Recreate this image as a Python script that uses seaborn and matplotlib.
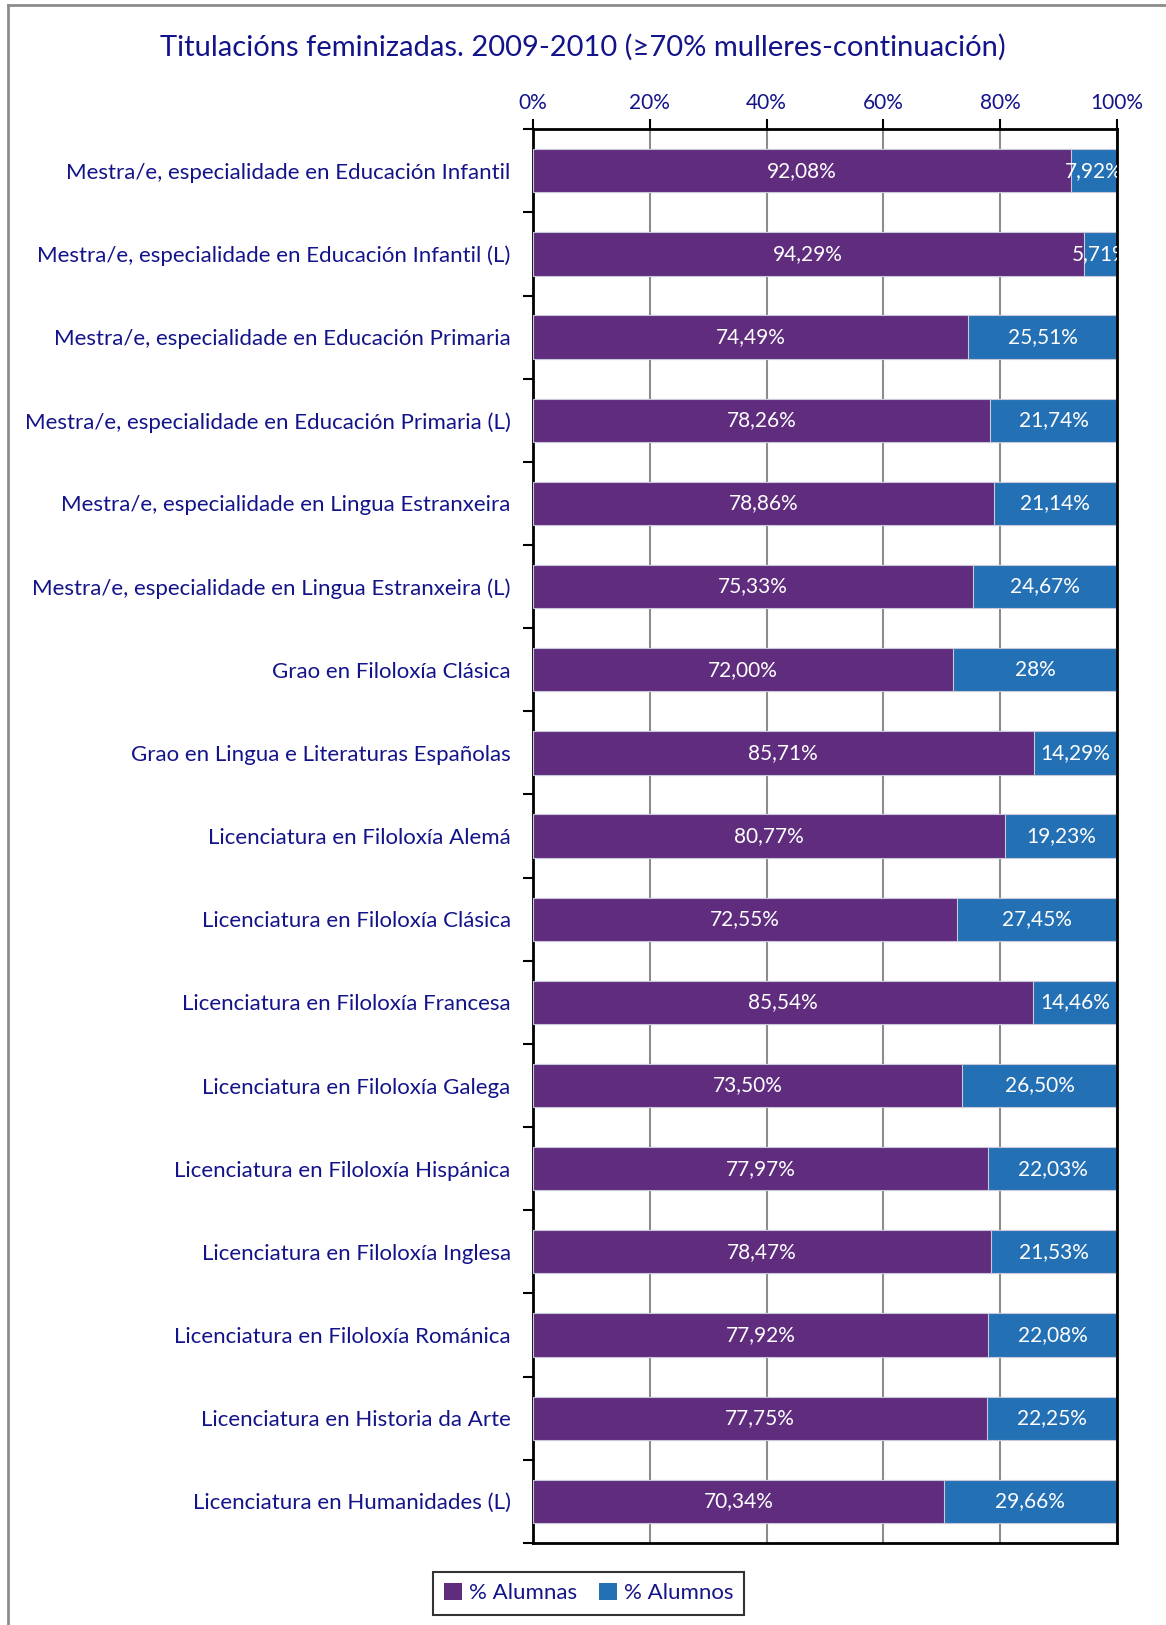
import numpy as np
import pandas as pd
import seaborn as sns
import matplotlib
matplotlib.use('Agg')
import matplotlib.pyplot as plt
from matplotlib.lines import Line2D
from matplotlib.patches import Patch

# Datos
titulacions = [
    'Mestra/e, especialidade en Educación Infantil',
    'Mestra/e, especialidade en Educación Infantil (L)',
    'Mestra/e, especialidade en Educación Primaria',
    'Mestra/e, especialidade en Educación Primaria (L)',
    'Mestra/e, especialidade en Lingua Estranxeira',
    'Mestra/e, especialidade en Lingua Estranxeira (L)',
    'Grao en Filoloxía Clásica',
    'Grao en Lingua e Literaturas Españolas',
    'Licenciatura en Filoloxía Alemá',
    'Licenciatura en Filoloxía Clásica',
    'Licenciatura en Filoloxía Francesa',
    'Licenciatura en Filoloxía Galega',
    'Licenciatura en Filoloxía Hispánica',
    'Licenciatura en Filoloxía Inglesa',
    'Licenciatura en Filoloxía Románica',
    'Licenciatura en Historia da Arte',
    'Licenciatura en Humanidades (L)',
]
alumnas = [92.08, 94.29, 74.49, 78.26, 78.86, 75.33, 72.00, 85.71, 80.77,
           72.55, 85.54, 73.50, 77.97, 78.47, 77.92, 77.75, 70.34]
alumnos = [7.92, 5.71, 25.51, 21.74, 21.14, 24.67, 28.00, 14.29, 19.23,
           27.45, 14.46, 26.50, 22.03, 21.53, 22.08, 22.25, 29.66]
etiq_alumnas = ['92,08%', '94,29%', '74,49%', '78,26%', '78,86%', '75,33%', '72,00%',
                '85,71%', '80,77%', '72,55%', '85,54%', '73,50%', '77,97%', '78,47%',
                '77,92%', '77,75%', '70,34%']
etiq_alumnos = ['7,92%', '5,71%', '25,51%', '21,74%', '21,14%', '24,67%', '28%',
                '14,29%', '19,23%', '27,45%', '14,46%', '26,50%', '22,03%', '21,53%',
                '22,08%', '22,25%', '29,66%']

df = pd.DataFrame({'titulacion': titulacions, 'alumnas': alumnas, 'alumnos': alumnos})
df['total'] = df['alumnas'] + df['alumnos']

morado = '#5F2C7E'
azul = '#2470B5'
texto = '#14148A'

plt.rcParams['font.family'] = ['Lato', 'DejaVu Sans']

fig = plt.figure(figsize=(11.66, 16.25), dpi=100)
ax = fig.add_axes([0.457, 0.0505, 0.501, 0.8700])

sns.barplot(data=df, x='total', y='titulacion', color=azul, width=0.52, saturation=1,
            edgecolor='#C8C8D8', linewidth=0.8, ax=ax, zorder=2)
sns.barplot(data=df, x='alumnas', y='titulacion', color=morado, width=0.52, saturation=1,
            edgecolor='#C8C8D8', linewidth=0.8, ax=ax, zorder=3)

ax.set_xlim(0, 100)
ax.set_ylim(len(df) - 0.5, -0.5)

# Etiquetas de valores
for i in range(len(df)):
    ax.text(alumnas[i] / 2, i, etiq_alumnas[i], ha='center', va='center',
            color='white', fontsize=15, zorder=4, clip_on=True)
    ax.text(alumnas[i] + alumnos[i] / 2, i, etiq_alumnos[i], ha='center', va='center',
            color='white', fontsize=15, zorder=4, clip_on=True)

# Eixo X arriba
ax.xaxis.tick_top()
ax.set_xticks([0, 20, 40, 60, 80, 100])
ax.set_xticklabels(['0%', '20%', '40%', '60%', '80%', '100%'])
ax.tick_params(axis='x', colors='black', labelcolor=texto, labelsize=15,
               length=7, width=1.5, direction='out', pad=4.5)
ax.set_xlabel('')
ax.set_ylabel('')
ax.grid(axis='x', color='#8C8C8C', linewidth=1.5, zorder=0)
ax.set_axisbelow(True)

# Eixo Y: marcas entre categorías
ax.set_yticks(np.arange(len(df)))
ax.set_yticklabels(titulacions)
ax.tick_params(axis='y', length=0, labelcolor=texto, labelsize=16, pad=16)
ax.set_yticks(np.arange(-0.5, len(df), 1), minor=True)
ax.tick_params(axis='y', which='minor', length=7, width=1.5, color='black')

for s in ax.spines.values():
    s.set_color('black')
    s.set_linewidth(2)

fig.text(0.5, 0.971, 'Titulacións feminizadas. 2009-2010 (≥70% mulleres-continuación)',
         ha='center', va='center', color=texto, fontsize=21)

# Lenda
handles = [Patch(facecolor=morado, label='% Alumnas'), Patch(facecolor=azul, label='% Alumnos')]
leg = fig.legend(handles=handles, loc='center', bbox_to_anchor=(0.505, 0.0195), ncol=2,
                 fontsize=16, frameon=True, fancybox=False, handlelength=0.8, handleheight=0.8,
                 handletextpad=0.3, columnspacing=1.0, borderpad=0.5, labelcolor=texto)
leg.get_frame().set_edgecolor('black')
leg.get_frame().set_linewidth(1.5)

# Bordo da figura
fig.add_artist(Line2D([0.0069, 0.0069], [0, 0.997], color='#8C8C8C', linewidth=2, transform=fig.transFigure))
fig.add_artist(Line2D([0.0069, 1.0], [0.997, 0.997], color='#8C8C8C', linewidth=2, transform=fig.transFigure))

fig.savefig('out.png', dpi=100)
